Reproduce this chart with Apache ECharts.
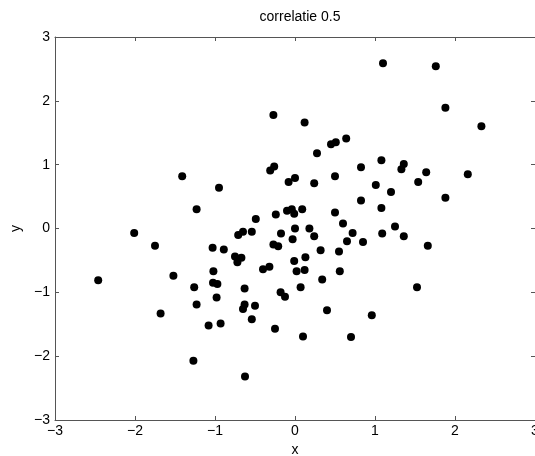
<!DOCTYPE html>
<html>
<head>
<meta charset="utf-8">
<script src="https://cdn.jsdelivr.net/npm/echarts@6/dist/echarts.min.js"></script>
<style>
html, body { margin: 0; padding: 0; background: #fff; }
#chart { width: 535px; height: 456px; }
</style>
</head>
<body>
<div id="chart"></div>
<script>
// punten (x, y)
let xVals = [
    -0.27, -1.41, -0.95, -1.23, -0.31, -0.26, -0.08, -0.24, -0.10, -0.49,
    1.10, 1.76, 1.88, 2.33, 0.12, 0.64, 0.45, 0.51, 0.275, 1.08,
    0.825, 1.36, 1.33, 1.64, 2.16, 1.54, 1.01, 1.20, 1.88, 0.50,
    0.24, 0.0, 0.825, 1.08, 0.50, 0.60, -0.04, -0.01, 0.09, 0.0,
    0.18, 1.25, -2.46, -2.01, -1.75, -1.52, -1.68, -1.26, -1.23, -1.27,
    -1.08, -0.93, -1.03, -0.89, -1.02, -1.025, -0.97, -0.98, -0.75, -0.67,
    -0.72, -0.71, -0.65, -0.54, -0.63, -0.63, -0.65, -0.50, -0.54, -0.625,
    -0.40, -0.32, -0.27, -0.21, -0.175, -0.18, -0.125, -0.25, -0.03, 0.24,
    0.72, 0.65, 0.85, 1.09, 1.36, 1.66, 0.32, 0.55, -0.01, 0.13,
    0.02, 0.12, 0.56, 0.34, 0.07, 1.525, 0.40, 0.96, 0.10, 0.70
];
let yVals = [
    1.78, 0.82, 0.64, 0.30, 0.91, 0.97, 0.73, 0.22, 0.28, 0.15,
    2.59, 2.54, 1.89, 1.60, 1.66, 1.41, 1.32, 1.35, 1.18, 1.07,
    0.96, 1.01, 0.93, 0.88, 0.85, 0.73, 0.68, 0.57, 0.48, 0.82,
    0.71, 0.79, 0.44, 0.32, 0.25, 0.08, 0.30, 0.23, 0.30, 0.0,
    0.0, 0.03, -0.81, -0.07, -0.27, -0.74, -1.33, -0.92, -1.19, -2.07,
    -1.52, -1.49, -0.30, -0.33, -0.67, -0.85, -0.87, -1.08, -0.44, -0.46,
    -0.53, -0.10, -0.05, -0.05, -0.94, -1.19, -1.26, -1.21, -1.42, -2.32,
    -0.64, -0.60, -0.25, -0.28, -0.08, -1.00, -1.07, -1.57, -0.17, -0.12,
    -0.07, -0.20, -0.21, -0.08, -0.12, -0.27, -0.34, -0.36, -0.51, -0.45,
    -0.67, -0.65, -0.67, -0.80, -0.92, -0.92, -1.28, -1.36, -1.69, -1.70
];
let axisMin = -3;
let axisMax = 3;
let titleText = "correlatie 0.5";

let chart = echarts.init(document.getElementById('chart'));
let points = xVals.map(function (x, i) { return [x, yVals[i]]; });
let font = '"Liberation Sans", Arial, sans-serif';
let lineColor = '#555';
let minus = function (v) { return String(v).replace('-', '\u2212'); };

let option = {
    animation: false,
    title: {
        text: titleText, left: 295, top: 5, textAlign: 'center',
        textStyle: {fontFamily: font, fontSize: 14, fontWeight: 'normal', color: '#000'}
    },
    grid: {left: 55, top: 37, width: 480, height: 383, containLabel: false, outerBoundsMode: 'none'},
    xAxis: [{
        type: 'value', min: axisMin, max: axisMax, interval: 1, position: 'bottom',
        name: 'x', nameLocation: 'middle', nameGap: 20,
        nameTextStyle: {fontFamily: font, fontSize: 14, color: '#000'},
        axisLine: {show: true, onZero: false, lineStyle: {color: lineColor, width: 1}},
        axisTick: {show: true, inside: true, length: 4, lineStyle: {color: lineColor}},
        axisLabel: {fontFamily: font, fontSize: 14, color: '#000', margin: 4, formatter: minus, showMinLabel: true, showMaxLabel: true},
        splitLine: {show: false}
    }, {
        type: 'value', min: axisMin, max: axisMax, interval: 1, position: 'top',
        axisLine: {show: true, onZero: false, lineStyle: {color: lineColor, width: 1}},
        axisTick: {show: true, inside: true, length: 4, lineStyle: {color: lineColor}},
        axisLabel: {show: false}, splitLine: {show: false}
    }],
    yAxis: [{
        type: 'value', min: axisMin, max: axisMax, interval: 1, position: 'left',
        name: 'y', nameLocation: 'middle', nameGap: 30, nameRotate: 90,
        nameTextStyle: {fontFamily: font, fontSize: 14, color: '#000'},
        axisLine: {show: true, onZero: false, lineStyle: {color: lineColor, width: 1}},
        axisTick: {show: true, inside: true, length: 4, lineStyle: {color: lineColor}},
        axisLabel: {fontFamily: font, fontSize: 14, color: '#000', margin: 5, formatter: minus, showMinLabel: true, showMaxLabel: true},
        splitLine: {show: false}
    }, {
        type: 'value', min: axisMin, max: axisMax, interval: 1, position: 'right',
        axisLine: {show: true, onZero: false, lineStyle: {color: lineColor, width: 1}},
        axisTick: {show: true, inside: true, length: 4, lineStyle: {color: lineColor}},
        axisLabel: {show: false}, splitLine: {show: false}
    }],
    series: [{
        type: 'scatter',
        xAxisIndex: 0, yAxisIndex: 0,
        symbol: 'circle', symbolSize: 8,
        itemStyle: {color: '#000', opacity: 1},
        data: points
    }]
};
chart.setOption(option);
</script>
</body>
</html>
